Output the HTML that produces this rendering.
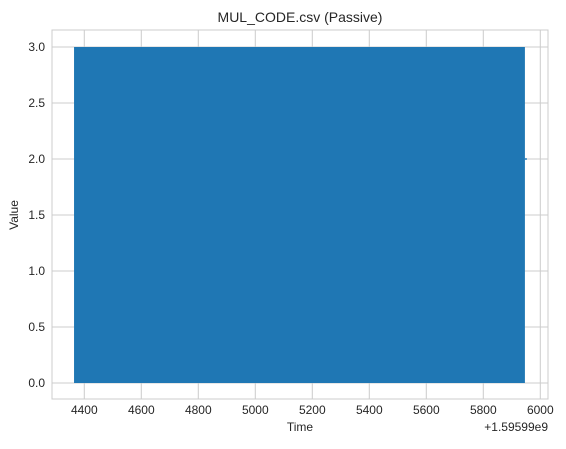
<!DOCTYPE html>
<html><head><meta charset="utf-8"><style>
body{margin:0;background:#fff;width:566px;height:444px;overflow:hidden}
svg{font-family:"Liberation Sans",Arial,sans-serif}
</style></head><body>
<svg id="c" width="566" height="444"></svg>
<script>
const xTicks=[4400,4600,4800,5000,5200,5400,5600,5800,6000];
const yTicks=[0.0,0.5,1.0,1.5,2.0,2.5,3.0];
const timeRange=[4364,5946];
const values=[0,3,1,2,3,0,2,1,3,0];
const lastValue=2;
const L=52,R=548,T=30,B=399;
const X=v=>426.3+(v-5600)*0.285;
const Y=v=>383-(v)*112;
const s=document.getElementById('c');
const NS='http://www.w3.org/2000/svg';
function mk(t,a,txt){const e=document.createElementNS(NS,t);for(const k in a)e.setAttribute(k,a[k]);if(txt!==undefined)e.textContent=txt;s.appendChild(e);return e;}
let e=mk('rect',{x:L,y:T,width:R-L,height:B-T,fill:'#fff',stroke:'#ccc','stroke-width':1});


xTicks.forEach(v=>{
 let g=mk('line',{x1:X(v),x2:X(v),y1:T,y2:B,stroke:'#ccc','stroke-width':1});
 
 
 let t=mk('text',{x:X(v),y:B+15,'text-anchor':'middle','font-size':12,fill:'#262626'},String(v));
 
 
});
yTicks.forEach(v=>{
 let g=mk('line',{x1:L,x2:R,y1:Y(v),y2:Y(v),stroke:'#ccc','stroke-width':1});
 
 
 let t=mk('text',{x:L-7,y:Y(v)+4,'text-anchor':'end','font-size':12,fill:'#262626'},v.toFixed(1));
 
 
});
const vmin=Math.min(...values),vmax=Math.max(...values);
let r=mk('rect',{x:X(timeRange[0]),y:Y(vmax),width:X(timeRange[1])-X(timeRange[0]),height:Y(vmin)-Y(vmax),fill:'#1f77b4'});


let st=mk('line',{x1:X(timeRange[1]),x2:X(timeRange[1])+2,y1:Y(lastValue),y2:Y(lastValue),stroke:'#1f77b4','stroke-width':1.5});


let ti=mk('text',{x:300,y:22,'text-anchor':'middle','font-size':14,fill:'#262626'},'MUL_CODE.csv (Passive)');


let xl=mk('text',{x:300,y:431,'text-anchor':'middle','font-size':12,fill:'#262626'},'Time');


let off=mk('text',{x:548,y:431,'text-anchor':'end','font-size':12,fill:'#262626'},'+1.59599e9');


let yl=mk('text',{x:18,y:215,'text-anchor':'middle','font-size':12,fill:'#262626',transform:'rotate(-90 18 215)'},'Value');


</script>
</body></html>
